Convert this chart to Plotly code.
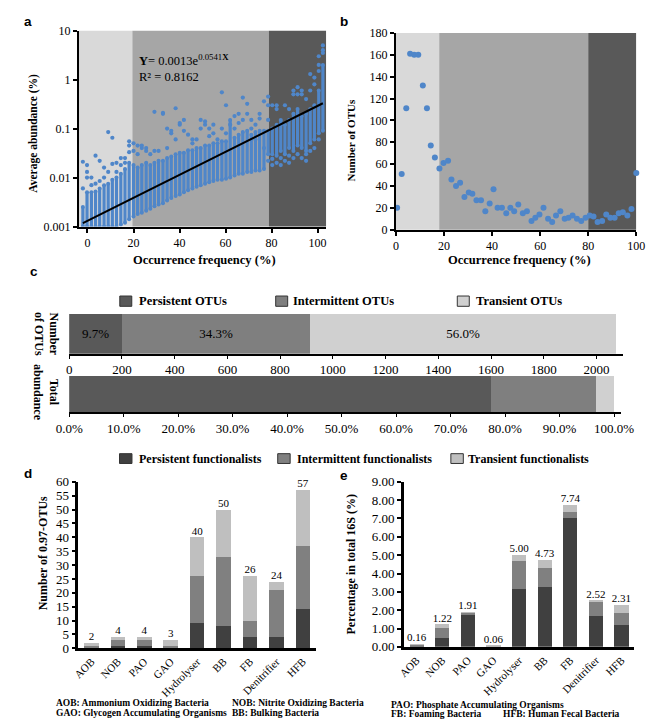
import plotly.graph_objects as go
import numpy as np

W, H = 655, 721
SERIF = "Liberation Serif"
SANS = "Liberation Sans"


def px(x):
    return x / W


def py(y):
    return 1 - y / H


# ---------------- panel a: OTU average abundance vs occurrence ----------------
a_col_x = [-2.0, -0.2, 1.7, 3.5, 5.3, 7.2, 9.0, 10.8, 12.6, 14.5, 16.3, 18.1,
           20.0, 21.8, 23.6, 25.5, 27.3, 29.1, 30.9, 32.8, 34.6, 36.4, 38.3, 40.1,
           41.9, 43.7, 45.6, 47.4, 49.2, 51.1, 52.9, 54.7, 56.5, 58.4, 60.2, 62.0,
           63.9, 65.7, 67.5, 69.4, 71.2, 73.0, 74.8, 76.7,
           78.5, 80.3, 82.2, 84.0, 85.8, 87.6, 89.5, 91.3, 93.1, 95.0, 96.8, 98.6,
           100.5, 102.3]
a_band_lo = [0.001, 0.001, 0.001, 0.001, 0.001, 0.001, 0.001, 0.001, 0.001, 0.0011, 0.0012, 0.0014,
             0.0016, 0.0018, 0.0019, 0.0021, 0.0023, 0.0026, 0.0028, 0.003, 0.0034, 0.0038, 0.0042, 0.0045,
             0.005, 0.0055, 0.006, 0.0065, 0.007, 0.0075, 0.008, 0.0085, 0.009, 0.009, 0.0095, 0.01,
             0.011, 0.012, 0.012, 0.013, 0.013, 0.014, 0.014, 0.015,
             0.03, 0.03, 0.028, 0.035, 0.03, 0.04, 0.035, 0.045, 0.04, 0.035, 0.05, 0.06, 0.08, 0.09]
a_band_hi = [0.0025, 0.005, 0.005, 0.0052, 0.006, 0.007, 0.0075, 0.009, 0.01, 0.012, 0.015, 0.02,
             0.018, 0.016, 0.018, 0.02, 0.018, 0.02, 0.022, 0.022, 0.025, 0.027, 0.03, 0.032,
             0.032, 0.036, 0.036, 0.04, 0.04, 0.045, 0.045, 0.05, 0.05, 0.055, 0.055, 0.15,
             0.065, 0.075, 0.085, 0.09, 0.075, 0.085, 0.09, 0.09,
             0.09, 0.1, 0.12, 0.15, 0.12, 0.15, 0.2, 0.25, 0.18, 0.2, 0.25, 0.3, 0.6, 2.0]
a_out_x = [-2.0, -2.0, -0.2, -0.2, -0.2, 1.7, 1.7, 3.5, 3.5, 5.3, 5.3, 7.2, 7.2, 9.0, 9.0,
           10.8, 10.8, 12.6, 12.6, 14.5, 14.5, 16.3, 16.3, 18.1, 18.1, 18.1,
           20.0, 20.0, 21.8, 21.8, 23.6, 23.6, 25.5, 25.5, 27.3, 29.1, 29.1, 30.9, 32.8, 32.8,
           34.6, 34.6, 36.4, 36.4, 38.3, 38.3, 40.1, 40.1, 41.9, 41.9, 43.7, 45.6, 45.6, 47.4,
           49.2, 49.2, 51.1, 51.1, 52.9, 52.9, 54.7, 54.7, 56.5, 58.4, 58.4, 60.2, 60.2, 62.0,
           63.9, 63.9, 65.7, 65.7, 67.5, 67.5, 69.4, 69.4, 71.2, 71.2, 73.0, 73.0, 74.8, 74.8,
           76.7, 76.7,
           78.5, 78.5, 78.5, 78.5, 80.3, 80.3, 80.3, 82.2, 82.2, 82.2, 84.0, 84.0, 84.0, 85.8, 85.8,
           87.6, 87.6, 87.6, 89.5, 89.5, 89.5, 91.3, 91.3, 91.3, 93.1, 93.1, 93.1, 95.0, 95.0, 95.0,
           96.8, 96.8, 96.8, 98.6, 98.6, 98.6, 100.5, 100.5, 100.5, 100.5,
           102.3, 102.3, 102.3]
a_out_y = [0.006, 0.021, 0.01, 0.013, 0.018, 0.01, 0.007, 0.0075, 0.028, 0.0085, 0.022, 0.01, 0.016, 0.013, 0.085,
           0.019, 0.065, 0.013, 0.02, 0.025, 0.018, 0.02, 0.025, 0.033, 0.045, 0.055,
           0.05, 0.035, 0.045, 0.03, 0.04, 0.045, 0.035, 0.04, 0.03, 0.22, 0.035, 0.035, 0.2, 0.21,
           0.1, 0.04, 0.08, 0.09, 0.26, 0.06, 0.12, 0.13, 0.15, 0.09, 0.075, 0.05, 0.06, 0.06,
           0.15, 0.1, 0.12, 0.14, 0.07, 0.1, 0.08, 0.12, 0.06, 0.55, 0.1, 0.3, 0.08, 0.12,
           0.1, 0.18, 0.13, 0.2, 0.43, 0.15, 0.32, 0.2, 0.15, 0.1, 0.06, 0.12, 0.16, 0.2,
           0.36, 0.04,
           0.3, 0.45, 0.15, 0.022, 0.3, 0.018, 0.024, 0.25, 0.3, 0.02, 0.12, 0.018, 0.025, 0.3, 0.022,
           0.25, 0.02, 0.028, 0.6, 0.5, 0.025, 0.7, 0.5, 0.03, 0.5, 0.6, 0.025, 0.4, 0.022, 0.03,
           1.3, 0.6, 0.035, 0.8, 1.1, 0.04, 1.5, 2.0, 3.0, 0.06,
           3.5, 5.0, 4.0]
fit_coef, fit_rate = 0.0013, 0.0541
a_edges = [-3.75, 19.5, 78.8, 103.75]

# ---------------- panel b: number of OTUs per occurrence frequency ----------------
b_x = [0.5, 2.4, 4.3, 5.9, 7.6, 9.3, 11.2, 12.9, 14.5, 16.2, 18.1, 19.8, 21.7, 23.1, 25.0,
       26.7, 28.5, 30.3, 31.8, 33.5, 35.4, 37.2, 39.0, 40.6, 42.3, 44.1, 45.9, 47.6, 49.2,
       50.9, 52.8, 54.5, 56.4, 58.0, 59.7, 61.4, 63.3, 65.0, 66.6, 68.4, 70.2, 71.8, 73.5,
       75.3, 77.1, 78.9, 80.6, 82.2, 83.9, 85.8, 87.5, 89.2, 91.0, 92.7, 94.4, 96.3, 98.0, 100.0]
b_y = [20, 51, 111, 161, 160, 160, 132, 111, 77, 66, 56, 61, 63, 46, 40,
       43, 30, 34, 33, 27, 27, 17, 24, 37, 20, 20, 15, 20, 17,
       23, 15, 17, 8, 11, 14, 20, 10, 7, 13, 17, 10, 11, 13,
       10, 8, 11, 13, 12, 7, 8, 14, 11, 11, 15, 16, 13, 19, 52]
b_edges = [0, 18, 80, 100]

# ---------------- panel c ----------------
c_groups = ["Persistent OTUs", "Intermittent OTUs", "Transient OTUs"]
c_counts = [201, 712, 1162]
c_count_labels = ["9.7%", "34.3%", "56.0%"]
c_abund = [77.4, 19.3, 3.3]

# ---------------- panels d / e ----------------
cats = ["AOB", "NOB", "PAO", "GAO", "Hydrolyser", "BB", "FB", "Denitrifier", "HFB"]
f_groups = ["Persistent functionalists", "Intermittent functionalists", "Transient functionalists"]
d_persist = [0, 1, 1, 0, 9, 8, 4, 4, 14]
d_inter = [1, 2, 2, 1, 17, 25, 6, 17, 23]
d_trans = [1, 1, 1, 2, 14, 17, 16, 3, 20]
d_totals = [2, 4, 4, 3, 40, 50, 26, 24, 57]
e_persist = [0.05, 0.50, 1.80, 0.00, 3.13, 3.27, 7.00, 1.67, 1.21]
e_inter = [0.08, 0.53, 0.06, 0.02, 1.55, 1.05, 0.36, 0.84, 0.64]
e_trans = [0.03, 0.19, 0.05, 0.04, 0.32, 0.41, 0.38, 0.01, 0.46]
e_totals = [0.16, 1.22, 1.91, 0.06, 5.00, 4.73, 7.74, 2.52, 2.31]

footnotes = [
    ("AOB: Ammonium Oxidizing Bacteria", 33, 703),
    ("NOB: Nitrite Oxidizing Bacteria", 217, 703),
    ("GAO: Glycogen Accumulating Organisms", 33, 712.5),
    ("BB: Bulking Bacteria", 217, 712.5),
    ("PAO: Phosphate Accumulating Organisms", 383, 704.5),
    ("FB: Foaming Bacteria", 383, 714),
    ("HFB: Human Fecal Bacteria", 500, 714),
]

# ---------------- styles ----------------
BLUE = "#4f86c9"
REG = ["#d9d9d9", "#a6a6a6", "#595959"]
C_COL = ["#595959", "#7f7f7f", "#d0d0d0"]
F_COL = ["#404040", "#808080", "#bfbfbf"]

fig = go.Figure()

# panel a traces
band_x, band_y = [], []
for x, lo, hi in zip(a_col_x, a_band_lo, a_band_hi):
    band_x += [x, x, None]
    band_y += [lo, hi, None]
fig.add_trace(go.Scatter(x=band_x, y=band_y, mode="lines+markers",
                         line=dict(color=BLUE, width=3.2), marker=dict(size=4, color=BLUE),
                         xaxis="x", yaxis="y", hoverinfo="skip"))
fig.add_trace(go.Scatter(x=a_out_x, y=a_out_y, mode="markers",
                         marker=dict(size=4.2, color=BLUE), xaxis="x", yaxis="y"))
fx = np.linspace(a_col_x[0], a_col_x[-1], 60)
fig.add_trace(go.Scatter(x=fx, y=fit_coef * np.exp(fit_rate * fx), mode="lines",
                         line=dict(color="black", width=2), xaxis="x", yaxis="y"))

# panel b
fig.add_trace(go.Scatter(x=b_x, y=b_y, mode="markers", marker=dict(size=6, color=BLUE),
                         xaxis="x2", yaxis="y2", cliponaxis=False))

# panel c
for i in range(3):
    fig.add_trace(go.Bar(y=[0], x=[c_counts[i]], orientation="h", width=1,
                         marker=dict(color=C_COL[i], line=dict(width=0)),
                         text=[c_count_labels[i]], textposition="inside", insidetextanchor="middle",
                         textfont=dict(family=SERIF, size=13, color="black"),
                         xaxis="x3", yaxis="y3", name=c_groups[i]))
    fig.add_trace(go.Bar(y=[0], x=[c_abund[i]], orientation="h", width=1,
                         marker=dict(color=C_COL[i], line=dict(width=0)),
                         xaxis="x4", yaxis="y4", name=c_groups[i]))

# panels d and e
for vals, col, name in zip([d_persist, d_inter, d_trans], F_COL, f_groups):
    fig.add_trace(go.Bar(x=cats, y=vals, width=0.55, marker=dict(color=col, line=dict(width=0)),
                         xaxis="x5", yaxis="y5", name=name))
fig.add_trace(go.Scatter(x=cats, y=d_totals, text=[str(v) for v in d_totals], mode="text",
                         textposition="top center", textfont=dict(family=SERIF, size=11, color="black"),
                         xaxis="x5", yaxis="y5", cliponaxis=False))
for vals, col, name in zip([e_persist, e_inter, e_trans], F_COL, f_groups):
    fig.add_trace(go.Bar(x=cats, y=vals, width=0.56, marker=dict(color=col, line=dict(width=0)),
                         xaxis="x6", yaxis="y6", name=name))
fig.add_trace(go.Scatter(x=cats, y=e_totals, text=[f"{v:.2f}" for v in e_totals], mode="text",
                         textposition="top center", textfont=dict(family=SERIF, size=11, color="black"),
                         xaxis="x6", yaxis="y6", cliponaxis=False))

# ---------------- axes ----------------
ax_common = dict(showline=True, linecolor="black", linewidth=2, showgrid=False, zeroline=False,
                 ticks="outside", ticklen=4, tickwidth=1.5, tickcolor="black",
                 tickfont=dict(family=SERIF, size=12, color="black"))

layout_axes = dict(
    xaxis=dict(ax_common, domain=[px(59.3), px(317.3)], range=[a_edges[0], a_edges[-1]],
               tickvals=[0, 20, 40, 60, 80, 100], anchor="y"),
    yaxis=dict(ax_common, domain=[py(216), py(16)], type="log", range=[-3, 1],
               tickvals=[0.001, 0.01, 0.1, 1, 10], ticktext=["0.001", "0.01", "0.1", "1", "10"], anchor="x"),
    xaxis2=dict(ax_common, domain=[px(390), px(640.7)], range=[0, 100],
                tickvals=[0, 20, 40, 60, 80, 100], anchor="y2"),
    yaxis2=dict(ax_common, domain=[py(219.3), py(18.3)], range=[0, 180], dtick=20, anchor="x2"),
    xaxis3=dict(ax_common, domain=[px(49.2), px(627)], range=[0, 2101], tickvals=list(range(0, 2001, 200)),
                linewidth=1.5, ticklen=3, tickwidth=1, tickfont=dict(family=SERIF, size=13, color="black"),
                anchor="y3"),
    yaxis3=dict(domain=[py(346), py(305)], range=[-0.5, 0.5], visible=False, anchor="x3"),
    xaxis4=dict(ax_common, domain=[px(49.2), px(625)], range=[0, 101.3], tickvals=list(range(0, 101, 10)),
                ticktext=[f"{v:.1f}%" for v in range(0, 101, 10)],
                linewidth=1.5, ticklen=3, tickwidth=1, tickfont=dict(family=SERIF, size=13, color="black"),
                anchor="y4"),
    yaxis4=dict(domain=[py(405.7), py(368.3)], range=[-0.5, 0.5], visible=False, anchor="x4"),
    xaxis5=dict(ax_common, domain=[px(58.7), px(306.7)], type="category", ticks="", linewidth=2.5,
                tickangle=-45, tickfont=dict(family=SERIF, size=11, color="black"), anchor="y5"),
    yaxis5=dict(ax_common, domain=[py(646.8), py(476.7)], range=[0, 60], dtick=5, linewidth=2.5,
                tickfont=dict(family=SERIF, size=13, color="black"), anchor="x5"),
    xaxis6=dict(ax_common, domain=[px(398.3), px(638.6)], type="category", ticks="", linewidth=2.5,
                tickangle=-45, tickfont=dict(family=SERIF, size=11, color="black"), anchor="y6"),
    yaxis6=dict(ax_common, domain=[py(645.3), py(476.7)], range=[0, 9], dtick=1, tickformat=".2f",
                linewidth=2.5, tickfont=dict(family=SERIF, size=13, color="black"), anchor="x6"),
)

# ---------------- shapes (background zones, legend boxes) ----------------
shapes = []
for i in range(3):
    shapes.append(dict(type="rect", xref="x", yref="y domain", x0=a_edges[i], x1=a_edges[i + 1],
                       y0=0, y1=1, fillcolor=REG[i], line=dict(width=0), layer="below"))
    shapes.append(dict(type="rect", xref="x2", yref="y2 domain", x0=b_edges[i], x1=b_edges[i + 1],
                       y0=0, y1=1, fillcolor=REG[i], line=dict(width=0), layer="below"))

ann = []


def text(t, x, y, size, family=SERIF, xanchor="left", yanchor="middle", angle=0, bold=True):
    ann.append(dict(text=f"<b>{t}</b>" if bold else t, x=px(x), y=py(y), xref="paper", yref="paper",
                    showarrow=False, xanchor=xanchor, yanchor=yanchor, textangle=angle,
                    font=dict(family=family, size=size, color="black")))


c_leg = [(102, 264.6, 454), (120, 281, 471)]
for i in range(3):
    x0 = c_leg[0][i]
    shapes.append(dict(type="rect", xref="paper", yref="paper", x0=px(x0), x1=px(x0 + 12.5),
                       y0=py(297.5), y1=py(287), fillcolor=C_COL[i], line=dict(color="#333333", width=1)))
    text(c_groups[i], c_leg[1][i], 292.5, 12.5)

f_leg = [(101.7, 266.7, 447.3), (120, 284.5, 463.5)]
for i in range(3):
    x0 = f_leg[0][i]
    shapes.append(dict(type="rect", xref="paper", yref="paper", x0=px(x0), x1=px(x0 + 13),
                       y0=py(458), y1=py(448), fillcolor=F_COL[i], line=dict(color="#333333", width=1)))
    text(f_groups[i], f_leg[1][i], 453, 12)

# titles
text("Occurrence frequency (%)", 190, 250, 12.5, xanchor="center")
text("Occurrence frequency (%)", 519, 250, 12.5, xanchor="center")
text("Average abundance (%)", 11.7, 121, 11.5, xanchor="center", angle=-90)
text("Number of OTUs", 343.3, 128, 11, xanchor="center", angle=-90)
text("Number of 0.97-OTUs", 21.7, 550, 12, xanchor="center", angle=-90)
text("Percentage in total 16S (%)", 343.3, 561, 12, xanchor="center", angle=-90)
text("Number<br>of OTUs", 25.3, 326, 12, xanchor="center", angle=90)
text("Total<br>abundance", 25, 386, 12, xanchor="center", angle=90)

# equation
ann.append(dict(text="<b>Y</b>= 0.0013e<sup>0.0541<b>X</b></sup>", x=px(120), y=py(46), xref="paper",
                yref="paper", showarrow=False, xanchor="left", yanchor="middle",
                font=dict(family=SERIF, size=12.5, color="black")))
text("R² = 0.8162", 120, 63, 12.5, bold=False)

# panel letters
for letter, x, y in [("a", 6, 7), ("b", 336, 7), ("c", 12.5, 262), ("d", 6, 468), ("e", 336, 470)]:
    text(letter, x, y, 13.5, family=SANS, xanchor="center")

for t, x, y in footnotes:
    text(t, x, y, 9.5)

fig.update_layout(
    width=W, height=H, autosize=False, margin=dict(l=0, r=0, t=0, b=0),
    paper_bgcolor="white", plot_bgcolor="white", showlegend=False, barmode="stack",
    shapes=shapes, annotations=ann, **layout_axes,
)

fig.write_html("out.html")
